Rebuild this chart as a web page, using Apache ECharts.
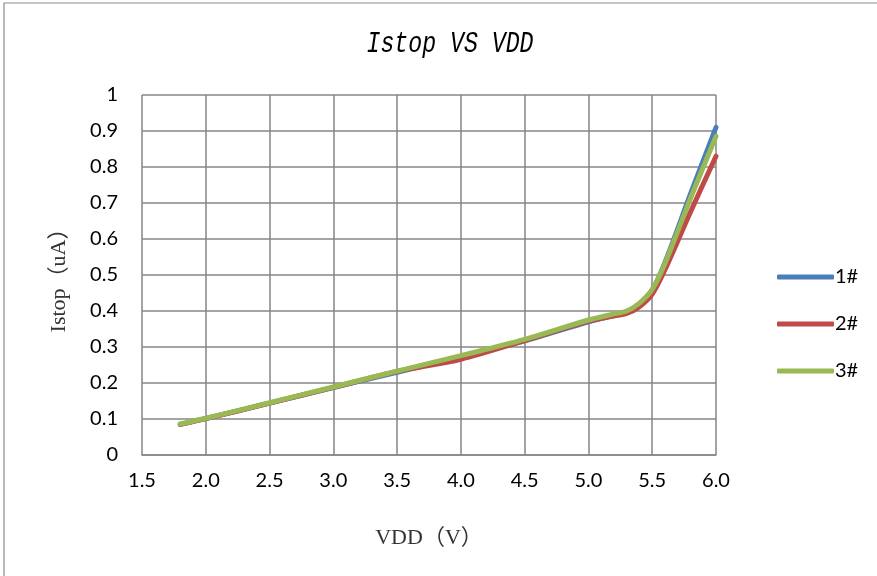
<!DOCTYPE html>
<html><head><meta charset="utf-8">
<script src="https://cdn.jsdelivr.net/npm/echarts@6/dist/echarts.min.js"></script>
<style>html,body{margin:0;padding:0;background:#fff}#c{width:877px;height:576px}</style>
</head><body><div id="c"></div>
<script>
const vdd = [1.8, 2.0, 2.5, 3.0, 3.5, 4.0, 4.5, 5.0, 5.2, 5.3, 5.4, 5.5, 5.6, 5.8, 6.0];
const s1 = [0.085, 0.101, 0.144, 0.187, 0.230, 0.272, 0.317, 0.370, 0.388, 0.396, 0.418, 0.458, 0.535, 0.725, 0.91];
const s2 = [0.085, 0.101, 0.144, 0.188, 0.232, 0.266, 0.318, 0.372, 0.386, 0.393, 0.412, 0.447, 0.515, 0.675, 0.83];
const s3 = [0.086, 0.102, 0.145, 0.189, 0.233, 0.276, 0.321, 0.375, 0.392, 0.400, 0.422, 0.460, 0.532, 0.713, 0.885];
const names = ['1#', '2#', '3#'];
const colors = ['#4A7EBB', '#BE4B48', '#98B954'];
const pair = s => vdd.map((x, i) => [x, s[i]]);
const chart = echarts.init(document.getElementById('c'));
const tickFont = {fontFamily: 'Lato, "Open Sans", sans-serif', fontSize: 20, color: '#000'};
const gridLine = {lineStyle: {color: '#868686', width: 1.5}};
const nameFont = {fontFamily: '"Liberation Serif", "Noto Sans CJK SC", serif', fontSize: 22, color: '#333'};
chart.setOption({
  animation: false,
  graphic: [
    {type: 'rect', shape: {x: 4, y: 3, width: 900, height: 620}, style: {fill: 'none', stroke: '#8c8c8c', lineWidth: 1.2}},
    {type: 'text', x: 450, y: 44, scaleX: 0.8, style: {text: 'Istop VS VDD', align: 'center', verticalAlign: 'middle',
      font: 'italic 29px "Liberation Mono", monospace', fill: '#000'}}
  ],
  grid: {left: 142, right: 161, top: 95, bottom: 121},
  legend: {orient: 'vertical', left: 772, top: 262, itemGap: 27, itemWidth: 57, itemHeight: 5,
    icon: 'roundRect', textStyle: {fontFamily: 'Lato, sans-serif', fontSize: 20, color: '#000', padding: [0, 0, 0, -4]},
    data: names},
  xAxis: {type: 'value', min: 1.5, max: 6.0, interval: 0.5,
    name: 'VDD（V）', nameLocation: 'middle', nameGap: 72, nameTextStyle: nameFont,
    axisLine: {show: true, lineStyle: {color: '#868686', width: 1.5}}, axisTick: {show: false},
    axisLabel: Object.assign({margin: 16, formatter: v => v.toFixed(1)}, tickFont),
    splitLine: Object.assign({show: true}, gridLine)},
  yAxis: {type: 'value', min: 0, max: 1, interval: 0.1,
    name: 'Istop（uA）', nameLocation: 'middle', nameGap: 72, nameTextStyle: nameFont,
    axisLine: {show: false}, axisTick: {show: false},
    axisLabel: Object.assign({margin: 24, formatter: v => (Math.round(v * 10) / 10).toString()}, tickFont),
    splitLine: Object.assign({show: true}, gridLine)},
  series: [s1, s2, s3].map((s, i) => ({
    name: names[i], type: 'line', data: pair(s), smooth: 0.3, showSymbol: false, symbol: 'none',
    lineStyle: {color: colors[i], width: 5, cap: 'round'}, itemStyle: {color: colors[i]}
  }))
});
</script></body></html>
